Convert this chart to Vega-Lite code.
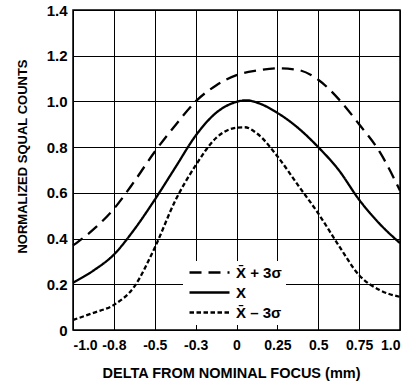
{
  "$schema": "https://vega.github.io/schema/vega-lite/v6.json",
  "width": 327,
  "height": 320,
  "autosize": {"type": "none"},
  "padding": {"left": 73, "top": 10, "right": 11, "bottom": 57},
  "background": "white",
  "config": {
    "font": "Liberation Sans",
    "view": {"stroke": "black", "strokeWidth": 1.5},
    "axis": {
      "labelFont": "Liberation Sans",
      "labelFontWeight": "bold",
      "labelFontSize": 15,
      "labelColor": "black",
      "titleFont": "Liberation Sans",
      "titleFontWeight": "bold",
      "titleColor": "black",
      "grid": true,
      "gridColor": "black",
      "gridOpacity": 1,
      "gridWidth": 1,
      "domain": false,
      "ticks": false
    }
  },
  "data": {
    "values": [
      {"delta": -1.0, "series": "X\u0304 + 3σ", "count": 0.37},
      {"delta": -0.875, "series": "X\u0304 + 3σ", "count": 0.44},
      {"delta": -0.75, "series": "X\u0304 + 3σ", "count": 0.53},
      {"delta": -0.625, "series": "X\u0304 + 3σ", "count": 0.65},
      {"delta": -0.5, "series": "X\u0304 + 3σ", "count": 0.78},
      {"delta": -0.375, "series": "X\u0304 + 3σ", "count": 0.895},
      {"delta": -0.25, "series": "X\u0304 + 3σ", "count": 1.0},
      {"delta": -0.125, "series": "X\u0304 + 3σ", "count": 1.07},
      {"delta": 0.0, "series": "X\u0304 + 3σ", "count": 1.115},
      {"delta": 0.125, "series": "X\u0304 + 3σ", "count": 1.135},
      {"delta": 0.25, "series": "X\u0304 + 3σ", "count": 1.145},
      {"delta": 0.375, "series": "X\u0304 + 3σ", "count": 1.138},
      {"delta": 0.5, "series": "X\u0304 + 3σ", "count": 1.095},
      {"delta": 0.625, "series": "X\u0304 + 3σ", "count": 1.01},
      {"delta": 0.75, "series": "X\u0304 + 3σ", "count": 0.9},
      {"delta": 0.875, "series": "X\u0304 + 3σ", "count": 0.78},
      {"delta": 1.0, "series": "X\u0304 + 3σ", "count": 0.61},
      {"delta": -1.0, "series": "X", "count": 0.207},
      {"delta": -0.875, "series": "X", "count": 0.26},
      {"delta": -0.75, "series": "X", "count": 0.33},
      {"delta": -0.625, "series": "X", "count": 0.44},
      {"delta": -0.5, "series": "X", "count": 0.57},
      {"delta": -0.375, "series": "X", "count": 0.71},
      {"delta": -0.25, "series": "X", "count": 0.85},
      {"delta": -0.125, "series": "X", "count": 0.95},
      {"delta": 0.0, "series": "X", "count": 0.998},
      {"delta": 0.06, "series": "X", "count": 1.005},
      {"delta": 0.125, "series": "X", "count": 0.995},
      {"delta": 0.25, "series": "X", "count": 0.95},
      {"delta": 0.375, "series": "X", "count": 0.885},
      {"delta": 0.5, "series": "X", "count": 0.8},
      {"delta": 0.625, "series": "X", "count": 0.7},
      {"delta": 0.75, "series": "X", "count": 0.57},
      {"delta": 0.875, "series": "X", "count": 0.465},
      {"delta": 1.0, "series": "X", "count": 0.38},
      {"delta": -1.0, "series": "X\u0304 \u2013 3σ", "count": 0.044},
      {"delta": -0.875, "series": "X\u0304 \u2013 3σ", "count": 0.075},
      {"delta": -0.75, "series": "X\u0304 \u2013 3σ", "count": 0.11},
      {"delta": -0.625, "series": "X\u0304 \u2013 3σ", "count": 0.19},
      {"delta": -0.5, "series": "X\u0304 \u2013 3σ", "count": 0.36},
      {"delta": -0.375, "series": "X\u0304 \u2013 3σ", "count": 0.565},
      {"delta": -0.25, "series": "X\u0304 \u2013 3σ", "count": 0.72},
      {"delta": -0.125, "series": "X\u0304 \u2013 3σ", "count": 0.84},
      {"delta": 0.0, "series": "X\u0304 \u2013 3σ", "count": 0.885},
      {"delta": 0.05, "series": "X\u0304 \u2013 3σ", "count": 0.887},
      {"delta": 0.125, "series": "X\u0304 \u2013 3σ", "count": 0.86},
      {"delta": 0.25, "series": "X\u0304 \u2013 3σ", "count": 0.76},
      {"delta": 0.375, "series": "X\u0304 \u2013 3σ", "count": 0.635},
      {"delta": 0.5, "series": "X\u0304 \u2013 3σ", "count": 0.51},
      {"delta": 0.625, "series": "X\u0304 \u2013 3σ", "count": 0.37},
      {"delta": 0.75, "series": "X\u0304 \u2013 3σ", "count": 0.24},
      {"delta": 0.875, "series": "X\u0304 \u2013 3σ", "count": 0.175},
      {"delta": 1.0, "series": "X\u0304 \u2013 3σ", "count": 0.145}
    ]
  },
  "mark": {"type": "line", "color": "black", "strokeWidth": 2.3, "interpolate": "monotone"},
  "encoding": {
    "x": {
      "field": "delta",
      "type": "quantitative",
      "scale": {"domain": [-1, 1], "nice": false},
      "axis": {
        "values": [-1, -0.75, -0.5, -0.25, 0, 0.25, 0.5, 0.75, 1],
        "labelExpr": "datum.value == -1 ? '-1.0' : datum.value == -0.75 ? '-0.8' : datum.value == -0.5 ? '-0.5' : datum.value == -0.25 ? '-0.3' : datum.value == 0 ? '0' : datum.value == 0.25 ? '0.25' : datum.value == 0.5 ? '0.5' : datum.value == 0.75 ? '0.75' : '1.0'",
        "labelFontSize": 14,
        "labelPadding": 8,
        "labelBound": false,
        "labelOverlap": false,
        "title": "DELTA FROM NOMINAL FOCUS (mm)",
        "titleFontSize": 14.5,
        "titleX": 158,
        "titleY": 43,
        "titleAlign": "center",
        "titleBaseline": "middle"
      }
    },
    "y": {
      "field": "count",
      "type": "quantitative",
      "scale": {"domain": [0, 1.4], "nice": false},
      "axis": {
        "values": [0, 0.2, 0.4, 0.6, 0.8, 1.0, 1.2, 1.4],
        "labelExpr": "datum.value == 0 ? '0' : format(datum.value, '.1f')",
        "labelPadding": 6,
        "title": "NORMALIZED SQUAL COUNTS",
        "titleFontSize": 13,
        "titleX": -51,
        "titleY": 146,
        "titleAlign": "center",
        "titleBaseline": "middle",
        "titleAngle": -90
      }
    },
    "strokeDash": {
      "field": "series",
      "type": "nominal",
      "scale": {
        "domain": ["X\u0304 + 3σ", "X", "X\u0304 \u2013 3σ"],
        "range": [[12, 7], [1, 0], [4.5, 2.5]]
      },
      "legend": {
        "title": null,
        "orient": "none",
        "legendX": 110,
        "legendY": 251,
        "fillColor": "white",
        "padding": 4,
        "symbolType": "M-1,0H7",
        "symbolSize": 100,
        "symbolFillColor": "transparent",
        "symbolStrokeColor": "black",
        "symbolStrokeWidth": 2.3,
        "labelFont": "Liberation Sans",
        "labelFontWeight": "bold",
        "labelFontSize": 15,
        "labelColor": "black",
        "labelOffset": 34,
        "rowPadding": 4
      }
    }
  }
}
